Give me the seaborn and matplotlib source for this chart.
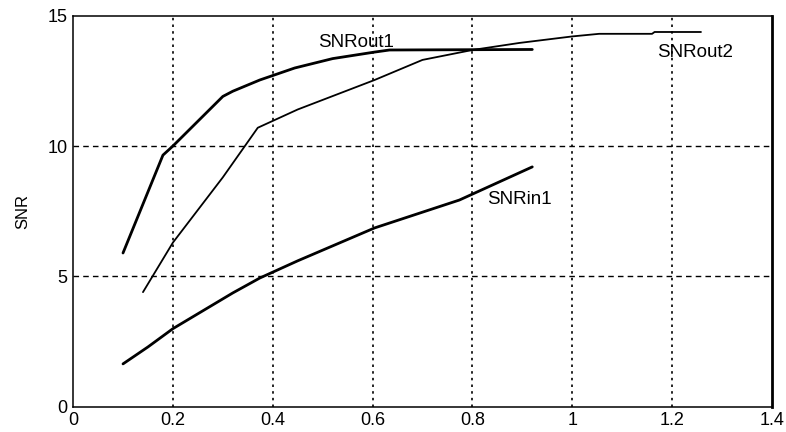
import numpy as np
import pandas as pd
import matplotlib
matplotlib.use("Agg")
import matplotlib.pyplot as plt
import seaborn as sns

sns.set_style("white")
plt.rcParams['font.family'] = ['Liberation Sans', 'DejaVu Sans']
plt.rcParams['text.color'] = 'black'
plt.rcParams['axes.labelcolor'] = 'black'

# values
out1_x = [0.10, 0.18, 0.20, 0.30, 0.32, 0.374, 0.444, 0.52, 0.604, 0.634, 0.92]
out1_y = [5.9, 9.65, 10.0, 11.9, 12.1, 12.53, 12.99, 13.35, 13.6, 13.68, 13.7]

out2_x = [0.14, 0.20, 0.30, 0.37, 0.45, 0.604, 0.70, 0.80, 0.894, 1.00, 1.054, 1.16, 1.165, 1.258]
out2_y = [4.4, 6.3, 8.8, 10.7, 11.4, 12.53, 13.3, 13.68, 13.95, 14.2, 14.3, 14.3, 14.37, 14.37]

in1_x = [0.10, 0.15, 0.20, 0.32, 0.374, 0.45, 0.604, 0.774, 0.92]
in1_y = [1.65, 2.3, 3.0, 4.37, 4.94, 5.6, 6.86, 7.93, 9.2]

xticks = [0, 0.2, 0.4, 0.6, 0.8, 1, 1.2, 1.4]
xticklabels = ["0", "0.2", "0.4", "0.6", "0.8", "1", "1.2", "1.4"]
yticks = [0, 5, 10, 15]

df_out1 = pd.DataFrame({"x": out1_x, "y": out1_y})
df_out2 = pd.DataFrame({"x": out2_x, "y": out2_y})
df_in1 = pd.DataFrame({"x": in1_x, "y": in1_y})

fig = plt.figure(figsize=(7.86, 4.32), dpi=100)
ax = fig.add_axes([0.093, 0.058, 0.889, 0.906])

sns.lineplot(data=df_out1, x="x", y="y", ax=ax, color="black", linewidth=2.0, sort=False)
sns.lineplot(data=df_out2, x="x", y="y", ax=ax, color="black", linewidth=1.3, sort=False)
sns.lineplot(data=df_in1, x="x", y="y", ax=ax, color="black", linewidth=2.0, sort=False)

ax.set_xlim(0, 1.4)
ax.set_ylim(0, 15)
ax.set_xticks(xticks)
ax.set_xticklabels(xticklabels)
ax.set_yticks(yticks)

# MATLAB-like grid: dotted verticals, dashed horizontals
for xv in xticks[1:-1]:
    ax.axvline(xv, color="black", linestyle=(0, (1.5, 2.5)), linewidth=1.2, zorder=0)
for yv in yticks[1:-1]:
    ax.axhline(yv, color="black", linestyle=(0, (4, 3)), linewidth=1.0, zorder=0)

ax.tick_params(direction="in", length=5, width=1, labelsize=13, colors="black", pad=4)
for s in ax.spines.values():
    s.set_color("black")
    s.set_linewidth(1.1)
ax.spines["right"].set_linewidth(2.0)

ax.set_xlabel("")
ax.set_ylabel("SNR", fontsize=12, labelpad=12)

ax.text(0.49, 13.95, "SNRout1", fontsize=13.5, va="center", ha="left")
ax.text(1.17, 13.6, "SNRout2", fontsize=13.5, va="center", ha="left")
ax.text(0.83, 7.95, "SNRin1", fontsize=13.5, va="center", ha="left")

fig.savefig("out.png", dpi=100)
